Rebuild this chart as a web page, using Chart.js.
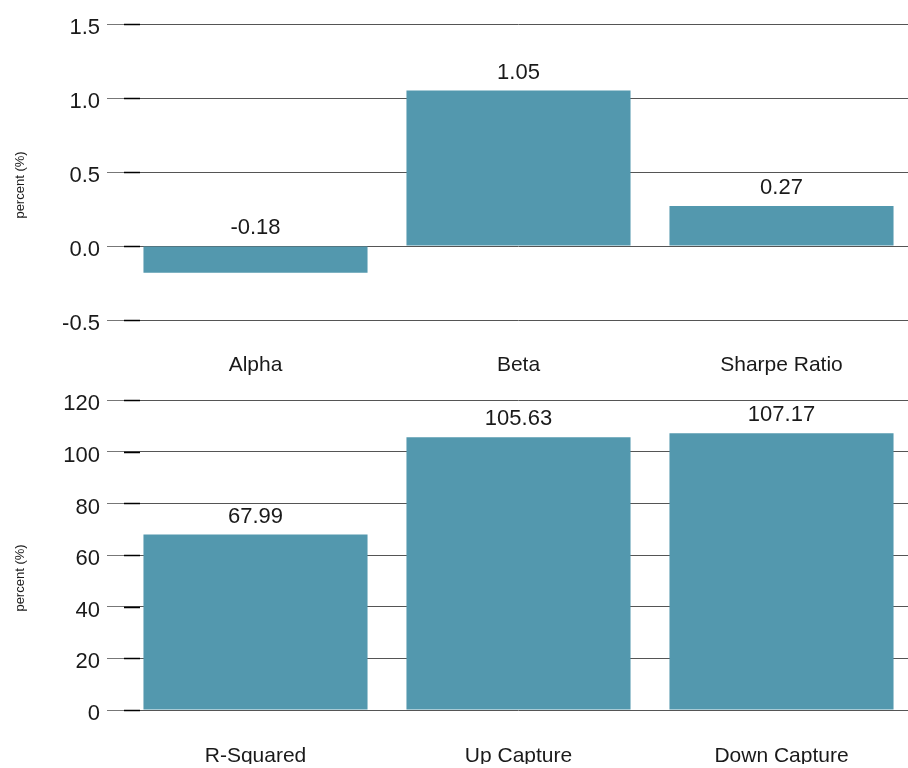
<!DOCTYPE html>
<html>
<head>
<meta charset="utf-8">
<script src="https://cdn.jsdelivr.net/npm/chart.js@4"></script>
<style>
  body { margin: 0; background: #fff; overflow: hidden; }
  .box { width: 914px; height: 384px; }
  .box.lower { margin-top: -4px; }
  canvas { display: block; }
</style>
</head>
<body>
<div class="box"><canvas id="riskChart" width="914" height="384"></canvas></div>
<div class="box lower"><canvas id="captureChart" width="914" height="384"></canvas></div>
<script>
// top panel
var riskLabels = ['Alpha', 'Beta', 'Sharpe Ratio'];
var riskValues = [-0.18, 1.05, 0.27];
var riskTicks = { min: -0.5, max: 1.5, step: 0.5, digits: 1 };

// bottom panel
var captureLabels = ['R-Squared', 'Up Capture', 'Down Capture'];
var captureValues = [67.99, 105.63, 107.17];
var captureTicks = { min: 0, max: 120, step: 20, digits: 0 };

var barColor = '#5398ae';
var textColor = '#1a1a1a';
var fontFamily = '"Liberation Sans", Arial, sans-serif';

// values above bars (negative ones sit above the zero line)
var valueLabels = {
    id: 'valueLabels',
    afterDatasetsDraw: function (chart) {
        var ctx = chart.ctx;
        var y = chart.scales.y;
        var meta = chart.getDatasetMeta(0);
        var data = chart.data.datasets[0].data;
        ctx.save();
        ctx.font = '22px ' + fontFamily;
        ctx.fillStyle = textColor;
        ctx.textAlign = 'center';
        ctx.textBaseline = 'middle';
        meta.data.forEach(function (bar, i) {
            var top = y.getPixelForValue(Math.max(data[i], 0));
            ctx.fillText(data[i].toFixed(2), bar.x, top - 18);
        });
        ctx.restore();
    }
};

// short dark marks at the start of each grid line
var tickMarks = {
    id: 'tickMarks',
    afterDraw: function (chart) {
        var ctx = chart.ctx;
        var y = chart.scales.y;
        var left = chart.chartArea.left;
        ctx.save();
        ctx.strokeStyle = '#000';
        ctx.lineWidth = 1.5;
        y.ticks.forEach(function (t) {
            var py = Math.round(y.getPixelForValue(t.value)) + 0.5;
            ctx.beginPath();
            ctx.moveTo(left, py);
            ctx.lineTo(left + 16, py);
            ctx.stroke();
        });
        ctx.restore();
    }
};

// rotated axis title, centred on the canvas height
var sideTitle = {
    id: 'sideTitle',
    afterDraw: function (chart) {
        var ctx = chart.ctx;
        ctx.save();
        ctx.translate(20, chart.options.plugins.sideTitle.centerY);
        ctx.rotate(-Math.PI / 2);
        ctx.font = '13px ' + fontFamily;
        ctx.fillStyle = textColor;
        ctx.textAlign = 'center';
        ctx.textBaseline = 'middle';
        ctx.fillText('percent (%)', 0, 0);
        ctx.restore();
    }
};

function makeChart(id, labels, values, ticks, opts) {
    var ctx = document.getElementById(id).getContext('2d');
    return new Chart(ctx, {
        type: 'bar',
        data: {
            labels: labels,
            datasets: [{
                data: values,
                backgroundColor: barColor,
                borderWidth: 0,
                categoryPercentage: 1,
                barPercentage: 0.852
            }]
        },
        options: {
            responsive: false,
            animation: false,
            devicePixelRatio: 1,
            layout: { padding: { top: opts.top, right: 1, left: 0, bottom: 0 } },
            plugins: {
                legend: { display: false },
                tooltip: { enabled: false },
                sideTitle: { centerY: opts.titleY }
            },
            scales: {
                x: {
                    grid: { display: false },
                    border: { display: false },
                    ticks: {
                        color: textColor,
                        font: { family: fontFamily, size: 21 },
                        padding: opts.labelPad
                    },
                    afterFit: function (scale) { scale.height = opts.xHeight; }
                },
                y: {
                    min: ticks.min,
                    max: ticks.max,
                    border: { display: false },
                    grid: {
                        color: '#555',
                        tickColor: '#777',
                        tickLength: 17
                    },
                    ticks: {
                        stepSize: ticks.step,
                        color: textColor,
                        padding: 7,
                        labelOffset: 4,
                        font: { family: fontFamily, size: 22 },
                        callback: function (v) { return Number(v).toFixed(ticks.digits); }
                    },
                    afterFit: function (scale) { scale.width = 124; }
                }
            }
        },
        plugins: [valueLabels, tickMarks, sideTitle]
    });
}

makeChart('riskChart', riskLabels, riskValues, riskTicks,
    { top: 24, xHeight: 64, labelPad: 25, titleY: 185 });
makeChart('captureChart', captureLabels, captureValues, captureTicks,
    { top: 16, xHeight: 54, labelPad: 26, titleY: 198 });
</script>
</body>
</html>
